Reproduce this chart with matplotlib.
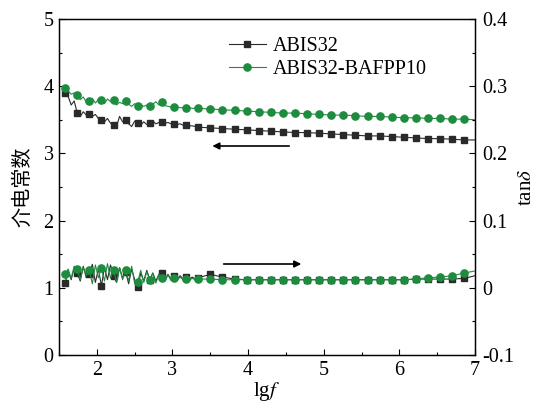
import numpy as np
import matplotlib as mpl
mpl.use('Agg')
import matplotlib.pyplot as plt
from matplotlib.ticker import MultipleLocator

plt.rcParams['font.family'] = ['Liberation Serif', 'DejaVu Serif']
plt.rcParams['mathtext.fontset'] = 'stix'

# lgf grid: dense (noisy) low-frequency part + coarse part + end point
lgf_noisy = np.round(1.58 + 0.04 * np.arange(45), 2)
lgf_smooth = np.round(3.50 + 0.16 * np.arange(22), 2)
lgf = np.concatenate([lgf_noisy, lgf_smooth, [7.0]])

# dielectric constant, ABIS32
eps_abis = [3.90, 3.85, 3.72, 3.78, 3.60, 3.55, 3.62, 3.57, 3.59, 3.55, 3.58, 3.52,
            3.50, 3.47, 3.52, 3.45, 3.42, 3.40, 3.55, 3.47, 3.50, 3.44, 3.40, 3.48,
            3.45, 3.42, 3.47, 3.43, 3.45, 3.48, 3.44, 3.46, 3.47, 3.45, 3.46, 3.44,
            3.44, 3.43, 3.44, 3.42, 3.42, 3.41, 3.41, 3.40, 3.39,
            3.38, 3.37, 3.36, 3.35, 3.34, 3.33, 3.32, 3.31, 3.31, 3.30, 3.29, 3.28,
            3.27, 3.26, 3.26, 3.25, 3.24, 3.23, 3.22, 3.22, 3.21, 3.20,
            3.20]
# dielectric constant, ABIS32-BAFPP10
eps_bafpp = [3.97, 3.93, 3.88, 3.90, 3.87, 3.80, 3.84, 3.76, 3.78, 3.82, 3.75, 3.80,
             3.79, 3.74, 3.81, 3.77, 3.79, 3.72, 3.76, 3.74, 3.78, 3.73, 3.70, 3.74,
             3.71, 3.72, 3.70, 3.72, 3.71, 3.73, 3.77, 3.72, 3.76, 3.71, 3.70, 3.69,
             3.69, 3.69, 3.68, 3.68, 3.68, 3.68, 3.67, 3.67, 3.67,
             3.66, 3.65, 3.64, 3.63, 3.62, 3.61, 3.60, 3.60, 3.59, 3.58, 3.57, 3.57,
             3.56, 3.55, 3.55, 3.54, 3.53, 3.53, 3.52, 3.52, 3.51, 3.51,
             3.50]
# tan delta, ABIS32
tan_abis = [0.007, 0.025, 0.012, 0.030, 0.022, 0.010, 0.032, 0.015, 0.020, 0.035, 0.008, 0.028,
            0.003, 0.030, 0.012, 0.034, 0.018, 0.008, 0.030, 0.014, 0.024, 0.006, 0.028, 0.012,
            0.001, 0.022, 0.010, 0.026, 0.012, 0.022, 0.010, 0.020, 0.022, 0.012, 0.020, 0.013,
            0.017, 0.012, 0.018, 0.013, 0.016, 0.012, 0.016, 0.013, 0.015,
            0.020, 0.016, 0.013, 0.012, 0.012, 0.012, 0.012, 0.012, 0.012, 0.012, 0.012, 0.012,
            0.012, 0.012, 0.012, 0.012, 0.012, 0.013, 0.013, 0.013, 0.013, 0.014,
            0.018]
# tan delta, ABIS32-BAFPP10
tan_bafpp = [0.020, 0.028, 0.014, 0.032, 0.028, 0.012, 0.030, 0.018, 0.026, 0.006, 0.034, 0.015,
             0.029, 0.010, 0.036, 0.014, 0.027, 0.008, 0.030, 0.012, 0.026, 0.010, 0.032, 0.006,
             0.009, 0.026, 0.008, 0.024, 0.012, 0.022, 0.007, 0.020, 0.015, 0.010, 0.019, 0.011,
             0.014, 0.011, 0.016, 0.012, 0.013, 0.011, 0.014, 0.012, 0.013,
             0.013, 0.012, 0.012, 0.012, 0.012, 0.012, 0.012, 0.012, 0.012, 0.012, 0.012, 0.012,
             0.012, 0.012, 0.012, 0.012, 0.012, 0.013, 0.015, 0.016, 0.018, 0.022,
             0.025]

labels = ['ABIS32', 'ABIS32-BAFPP10']
black = '#2a2a2a'
green = '#1e8c3e'

# markers: every 4th dense point, every coarse point, none on the end point
mk = list(range(0, 45, 4)) + list(range(45, 67))

fig = plt.figure(figsize=(5.37, 4.04), dpi=100)
ax = fig.add_axes([0.110, 0.1213, 0.7745, 0.8317])
ax2 = ax.twinx()

ax.plot(lgf, eps_abis, color=black, lw=0.8, marker='s', ms=4.3, markevery=mk, label=labels[0], zorder=3)
ax.plot(lgf, eps_bafpp, color=green, lw=0.8, marker='o', ms=5.2, markevery=mk, label=labels[1], zorder=4)
ax2.plot(lgf, tan_abis, color=black, lw=0.8, marker='s', ms=4.3, markevery=mk, zorder=3)
ax2.plot(lgf, tan_bafpp, color=green, lw=0.8, marker='o', ms=5.2, markevery=mk, zorder=4)

ax.set_xlim(1.5, 7)
ax.set_ylim(0, 5)
ax2.set_ylim(-0.1, 0.4)

ax.xaxis.set_major_locator(MultipleLocator(1))
ax.xaxis.set_minor_locator(MultipleLocator(0.5))
ax.yaxis.set_major_locator(MultipleLocator(1))
ax.yaxis.set_minor_locator(MultipleLocator(0.5))
ax2.yaxis.set_minor_locator(MultipleLocator(0.05))
ax2.set_yticks([-0.1, 0, 0.1, 0.2, 0.3, 0.4], ['-0.1', '0', '0.1', '0.2', '0.3', '0.4'])

for a in (ax, ax2):
    a.tick_params(which='both', direction='in', labelsize=14.5, top=False)
    a.tick_params(which='major', length=4, width=0.8)
    a.tick_params(which='minor', length=2.5, width=0.8)
    for s in a.spines.values():
        s.set_linewidth(0.9)
ax.tick_params(axis='y', right=False, pad=4)
ax2.tick_params(axis='y', pad=5)
ax.tick_params(axis='x', pad=4)

ax.set_xlabel(r'lg$f$', fontsize=15, labelpad=0)
ax.set_ylabel('介电常数', fontsize=14.5, family=['Noto Sans CJK SC', 'DejaVu Sans'], labelpad=7)
ax2.set_ylabel(r'tan$\delta$', fontsize=15, labelpad=2)

# direction arrows
ax.annotate('', xy=(3.49, 3.11), xytext=(4.58, 3.11),
            arrowprops=dict(arrowstyle='-|>', color='black', lw=1.2, mutation_scale=10))
ax2.annotate('', xy=(4.74, 0.0354), xytext=(3.64, 0.0354),
             arrowprops=dict(arrowstyle='-|>', color='black', lw=1.2, mutation_scale=10))

ax.legend(loc='upper left', bbox_to_anchor=(0.39, 0.97), frameon=False, fontsize=14.5,
          handlelength=1.8, handletextpad=0.35, labelspacing=0.2, borderaxespad=0)

fig.savefig('out.png', dpi=100)
